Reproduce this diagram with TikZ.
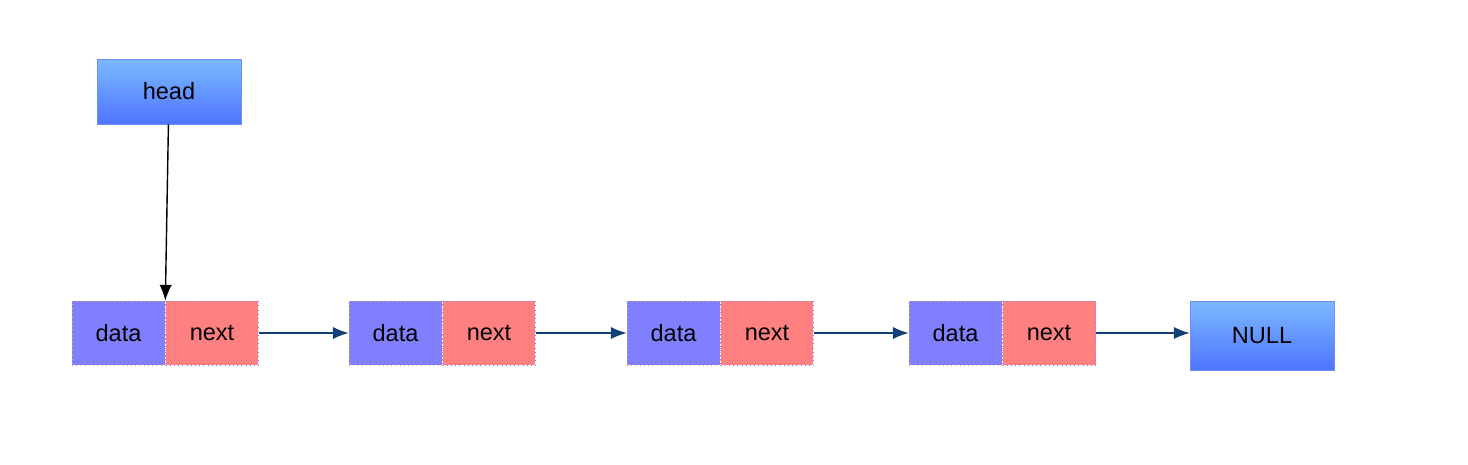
\documentclass[tikz,border=0pt]{standalone}
\usepackage{fontspec}
\setmainfont{Liberation Sans}
\usepackage{tikz}
\usetikzlibrary{arrows.meta}
\usetikzlibrary{positioning}
\definecolor{cellblue}{HTML}{8080FF}
\definecolor{cellred}{HTML}{FF8080}
\definecolor{boxtop}{HTML}{7AB9FF}
\definecolor{boxbottom}{HTML}{4F74FF}
\definecolor{boxline}{HTML}{6F8FF5}
\definecolor{linkblue}{HTML}{123F78}
\tikzstyle{cell}=[minimum width=1.86cm, minimum height=1.28cm, inner sep=0pt,
    font=\fontsize{13.4}{16}\selectfont]
\tikzstyle{cell_data}=[cell, fill=cellblue, draw=orange!70, dotted]
\tikzstyle{cell_next}=[cell, fill=cellred, draw=blue!50, dotted]
\tikzstyle{ptr_box}=[minimum width=2.88cm, inner sep=0pt, draw=boxline,
    top color=boxtop, bottom color=boxbottom, font=\fontsize{13.4}{16}\selectfont]
\tikzstyle{link}=[draw=linkblue, thick, -{Latex[length=9pt,width=7pt]}]
\begin{document}
\begin{tikzpicture}[x=0.02cm, y=-0.02cm]
\useasboundingbox (0,0) rectangle (1468,464);
\node[ptr_box, minimum height=1.3cm] (head) at (169,91.5){head};
\node[cell_data] (data1) at (118.5,333){data};
\node[cell_next] (next1) at (212,333){next};
\node[cell_data] (data2) at (395.5,333){data};
\node[cell_next] (next2) at (489,333){next};
\node[cell_data] (data3) at (673.5,333){data};
\node[cell_next] (next3) at (767,333){next};
\node[cell_data] (data4) at (955.5,333){data};
\node[cell_next] (next4) at (1049,333){next};
\node[ptr_box, minimum height=1.38cm] (null) at (1262,335.5){NULL};
\draw[thick, -{Latex[length=9pt,width=7pt]}](head) -- (data1.north east);
\draw[link](next1) -- (data2);
\draw[link](next2) -- (data3);
\draw[link](next3) -- (data4);
\draw[link](next4.east) -- (null.west |- next4.east);
\end{tikzpicture}
\end{document}
